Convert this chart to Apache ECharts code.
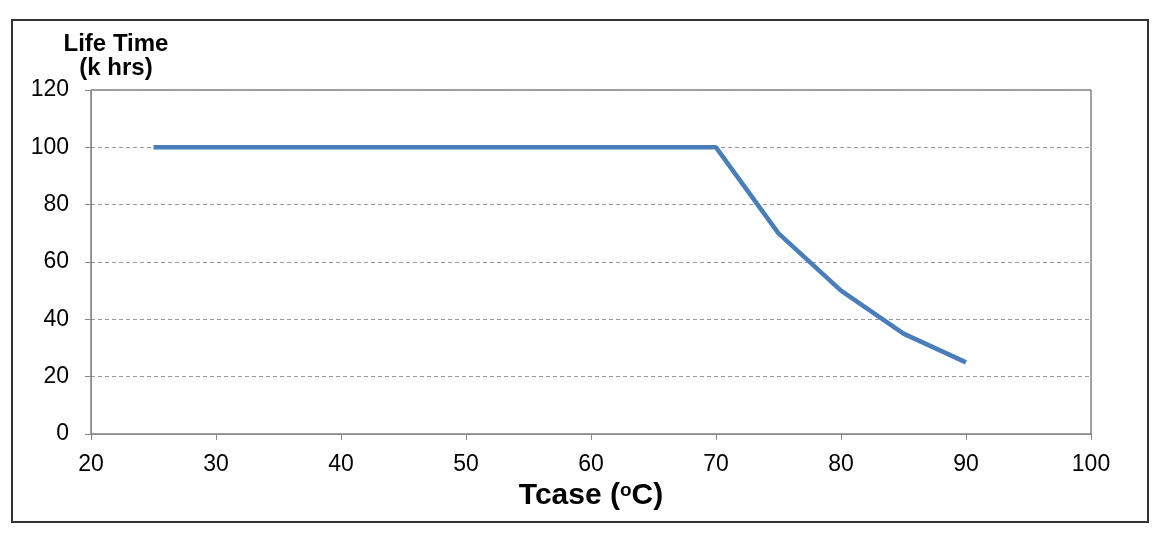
<!DOCTYPE html>
<html>
<head>
<meta charset="utf-8">
<script src="https://cdn.jsdelivr.net/npm/echarts@6/dist/echarts.min.js"></script>
<style>
  html, body { margin: 0; padding: 0; background: #fff; }
  #chart { width: 1161px; height: 540px; }
</style>
</head>
<body>
<div id="chart"></div>
<script>
const tcase = [25, 70, 75, 80, 85, 90];
const lifeTime = [100, 100, 70, 50, 35, 25];

const xTicks = { min: 20, max: 100, interval: 10 };
const yTicks = { min: 0, max: 120, interval: 20 };

const chart = echarts.init(document.getElementById('chart'));

const font = 'Liberation Sans, Arial, sans-serif';

const option = {
  animation: false,
  grid: {
    show: true,
    left: 91,
    right: 70,
    top: 90,
    bottom: 106,
    borderColor: '#444',
    borderWidth: 1,
  },
  graphic: [
    {
      type: 'rect',
      shape: { x: 12, y: 20, width: 1136, height: 502 },
      style: { fill: 'none', stroke: '#333', lineWidth: 2 },
    },
    {
      type: 'text',
      x: 116,
      y: 32,
      style: {
        text: 'Life Time\n(k hrs)',
        font: 'bold 24px ' + font,
        fill: '#000',
        textAlign: 'center',
        lineHeight: 24,
      },
    },
  ],
  xAxis: {
    type: 'value',
    min: xTicks.min,
    max: xTicks.max,
    interval: xTicks.interval,
    name: 'Tcase ({sup|o}C)',
    nameLocation: 'middle',
    nameGap: 47,
    nameTextStyle: {
      fontFamily: font,
      fontSize: 30,
      fontWeight: 'bold',
      color: '#000',
      rich: {
        sup: { fontFamily: font, fontSize: 19, fontWeight: 'bold', color: '#000', verticalAlign: 'top', padding: [0, 0, 11, 0] },
      },
    },
    axisLine: { lineStyle: { color: '#888', width: 1 } },
    axisTick: { show: true, inside: false, length: 6, lineStyle: { color: '#888' } },
    axisLabel: { fontFamily: font, fontSize: 23, color: '#000', margin: 19 },
    splitLine: { show: false },
  },
  yAxis: {
    type: 'value',
    min: yTicks.min,
    max: yTicks.max,
    interval: yTicks.interval,
    axisLine: { show: true, lineStyle: { color: '#888', width: 1 } },
    axisTick: { show: true, inside: false, length: 6, lineStyle: { color: '#888' } },
    axisLabel: { fontFamily: font, fontSize: 23, color: '#000', margin: 22 },
    splitLine: { show: true, lineStyle: { color: '#999', type: [4, 3], width: 1 } },
  },
  series: [
    {
      type: 'line',
      data: tcase.map((x, i) => [x, lifeTime[i]]),
      showSymbol: false,
      lineStyle: { color: '#4a7ebb', width: 4.5 },
    },
  ],
};

chart.setOption(option);
</script>
</body>
</html>
